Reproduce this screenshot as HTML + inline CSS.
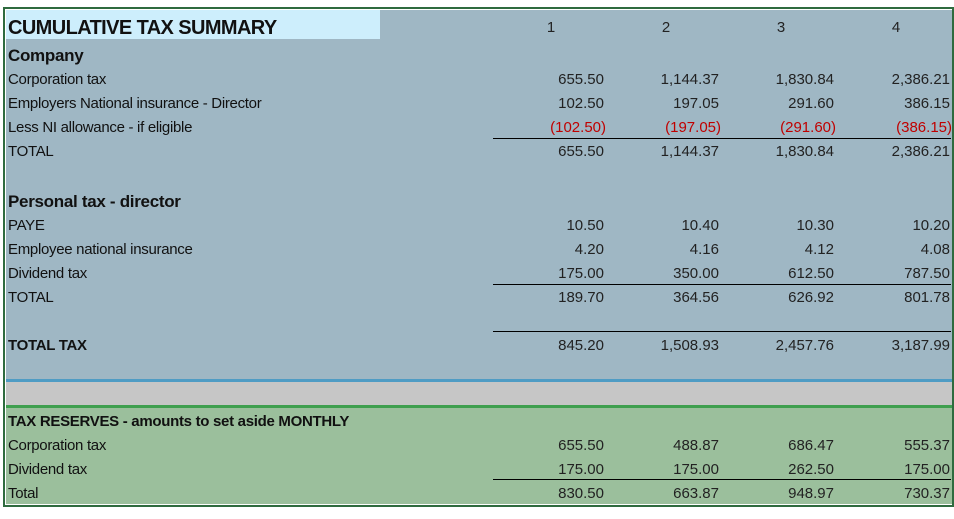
<!DOCTYPE html>
<html><head><style>
body{margin:0;width:954px;height:519px;background:#fff;position:relative;overflow:hidden;font-family:"Liberation Sans",sans-serif;}
.a{position:absolute;}
.t{position:absolute;left:8px;font-size:15px;color:#111;line-height:18px;letter-spacing:-0.3px;margin-top:2px}
.b{font-weight:bold}
.n{position:absolute;font-size:15px;color:#222;line-height:18px;text-align:right;width:110px;margin-top:2px}
.r{color:#c00000}
.ln{position:absolute;left:493px;width:458px;height:1px;background:#000}
</style></head><body>
<div class="a" style="left:3px;top:7px;width:951px;height:500px;border:2px solid #2f6b3f;box-sizing:border-box"></div>
<div class="a" style="left:6px;top:10px;width:946px;height:370px;background:#9fb7c4"></div>
<div class="a" style="left:6px;top:10px;width:374px;height:29px;background:#cdeefc"></div>
<div class="a" style="left:6px;top:379px;width:946px;height:3px;background:#4f9cc4"></div>
<div class="a" style="left:6px;top:382px;width:946px;height:23px;background:#c6c6c6"></div>
<div class="a" style="left:6px;top:405px;width:946px;height:3px;background:#3f9f4f"></div>
<div class="a" style="left:6px;top:408px;width:946px;height:96px;background:#9bbf9c"></div>

<div class="t b" style="top:14px;font-size:20px;line-height:24px;letter-spacing:-0.6px">CUMULATIVE TAX SUMMARY</div>
<div class="n" style="top:17px;left:496px;text-align:center">1</div>
<div class="n" style="top:17px;left:611px;text-align:center">2</div>
<div class="n" style="top:17px;left:726px;text-align:center">3</div>
<div class="n" style="top:17px;left:841px;text-align:center">4</div>

<div class="t b" style="top:44px;font-size:17px;line-height:20px">Company</div>
<div class="t" style="top:69px">Corporation tax</div>
<div class="t" style="top:93px">Employers National insurance - Director</div>
<div class="t" style="top:117px">Less NI allowance - if eligible</div>
<div class="t" style="top:141px">TOTAL</div>
<div class="t b" style="top:190px;font-size:17px;line-height:20px">Personal tax - director</div>
<div class="t" style="top:215px">PAYE</div>
<div class="t" style="top:239px">Employee national insurance</div>
<div class="t" style="top:263px">Dividend tax</div>
<div class="t" style="top:287px">TOTAL</div>
<div class="t b" style="top:335px">TOTAL TAX</div>
<div class="t b" style="top:411px">TAX RESERVES - amounts to set aside MONTHLY</div>
<div class="t" style="top:435px">Corporation tax</div>
<div class="t" style="top:459px">Dividend tax</div>
<div class="t" style="top:483px">Total</div>

<div class="ln" style="top:138px"></div>
<div class="ln" style="top:284px"></div>
<div class="ln" style="top:331px"></div>
<div class="ln" style="top:479px"></div>

<div id="nums"></div>
<script>
var rows=[[69,["655.50","1,144.37","1,830.84","2,386.21"]],[93,["102.50","197.05","291.60","386.15"]],[117,["(102.50)","(197.05)","(291.60)","(386.15)"],1],[141,["655.50","1,144.37","1,830.84","2,386.21"]],
[215,["10.50","10.40","10.30","10.20"]],[239,["4.20","4.16","4.12","4.08"]],[263,["175.00","350.00","612.50","787.50"]],[287,["189.70","364.56","626.92","801.78"]],[335,["845.20","1,508.93","2,457.76","3,187.99"]],
[435,["655.50","488.87","686.47","555.37"]],[459,["175.00","175.00","262.50","175.00"]],[483,["830.50","663.87","948.97","730.37"]]];
var R=[604,719,834,950],h="";
rows.forEach(function(r){r[1].forEach(function(v,i){var x=R[i]+(r[2]?2:0);h+='<div class="n'+(r[2]?' r':'')+'" style="top:'+r[0]+'px;left:'+(x-110)+'px">'+v+'</div>';});});
document.getElementById("nums").innerHTML=h;
</script>
</body></html>
